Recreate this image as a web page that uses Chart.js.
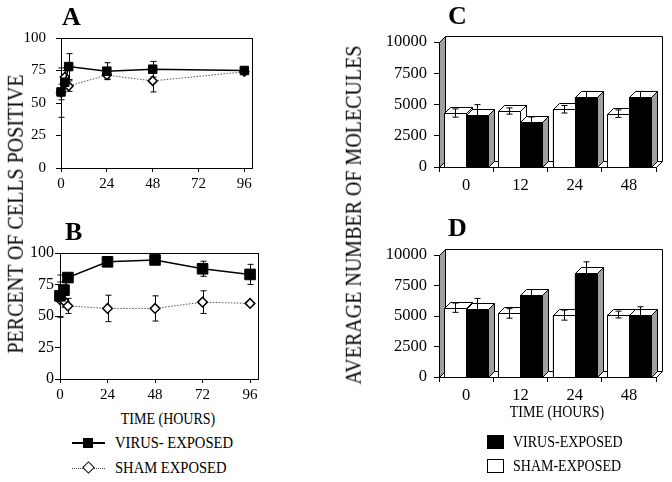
<!DOCTYPE html>
<html>
<head>
<meta charset="utf-8">
<script src="https://cdn.jsdelivr.net/npm/chart.js@4"></script>
<style>
body{margin:0;background:#fff;font-family:"Liberation Serif",serif;color:#000}
#fig{position:relative;width:672px;height:482px;overflow:hidden}
canvas{position:absolute}
.t{position:absolute;white-space:nowrap;line-height:1}
.let{font-weight:bold;font-size:26px;transform:translateY(-50%)}
</style>
</head>
<body>
<div id="fig">
  <canvas id="cA" width="270" height="200" style="left:0;top:0"></canvas>
  <canvas id="cB" width="280" height="200" style="left:0;top:200px"></canvas>
  <canvas id="cC" width="342" height="200" style="left:330px;top:0"></canvas>
  <canvas id="cD" width="342" height="210" style="left:330px;top:200px"></canvas>

  <div class="t let" style="left:62px;top:17px">A</div>
  <div class="t let" style="left:65px;top:232px">B</div>
  <div class="t let" style="left:448px;top:16px">C</div>
  <div class="t let" style="left:448px;top:228px">D</div>

  <div class="t" style="left:14px;top:214px;font-size:20px;transform:translate(-50%,-50%) rotate(-90deg) scaleY(1.2)">PERCENT OF CELLS POSITIVE</div>
  <div class="t" style="left:352px;top:215px;font-size:20px;transform:translate(-50%,-50%) rotate(-90deg) scaleY(1.2)">AVERAGE NUMBER OF MOLECULES</div>

  <div class="t" style="left:168px;top:419px;font-size:14px;transform:translate(-50%,-50%) scaleY(1.25)">TIME (HOURS)</div>
  <div class="t" style="left:557px;top:412px;font-size:14px;transform:translate(-50%,-50%) scaleY(1.25)">TIME (HOURS)</div>

  <!-- legend, line panels -->
  <div style="position:absolute;left:72px;top:442px;width:33px;height:1.5px;background:#000"></div>
  <div style="position:absolute;left:83px;top:438px;width:10px;height:10px;background:#000"></div>
  <div class="t" style="left:115px;top:443px;font-size:14.6px;transform:translateY(-50%) scaleY(1.1)">VIRUS- EXPOSED</div>
  <div style="position:absolute;left:72px;top:468px;width:33px;border-top:1px dotted #444"></div>
  <div style="position:absolute;left:84px;top:463px;width:7px;height:7px;background:#fff;border:1.5px solid #000;transform:rotate(45deg)"></div>
  <div class="t" style="left:115px;top:468px;font-size:14.6px;transform:translateY(-50%) scaleY(1.1)">SHAM EXPOSED</div>

  <!-- legend, bar panels -->
  <div style="position:absolute;left:487px;top:435px;width:17px;height:14px;background:#000"></div>
  <div class="t" style="left:513px;top:442px;font-size:14px;transform:translateY(-50%) scaleY(1.15)">VIRUS-EXPOSED</div>
  <div style="position:absolute;left:487px;top:459px;width:15px;height:12px;background:#fff;border:1px solid #000"></div>
  <div class="t" style="left:513px;top:466px;font-size:14px;transform:translateY(-50%) scaleY(1.15)">SHAM-EXPOSED</div>
</div>

<script>
'use strict';
// panel A
const hrsA = [0, 2, 4, 24, 48, 96];
const virusA = [58.5, 66, 78, 74.5, 76, 75];
const virusAErr = [6, 3, 10, 6.5, 6, 1];
const shamA = [58, 70, 63, 71.5, 67, 74];
const shamAErr = [19, 5, 4, 3, 8.5, 1];
// panel B
const hrsB = [0, 2, 4, 24, 48, 72, 96];
const virusB = [66, 70.5, 80.5, 93, 94.5, 87.5, 83];
const virusBErr = [16.5, 4, 3, 1.5, 1.5, 6, 8];
const shamB = [63, 62, 58, 56, 56, 61, 60];
const shamBErr = [14, 5, 6, 10.5, 10, 9, 1];
const hourTicks = [0, 24, 48, 72, 96];
const pctTicks = [0, 25, 50, 75, 100];
// panels C and D
const times = ['0', '12', '24', '48'];
const shamC = [4320, 4480, 4620, 4270];
const shamCErr = [330, 250, 300, 300];
const virusC = [4190, 3600, 5600, 5600];
const virusCErr = [800, 400, 450, 450];
const shamD = [5680, 5210, 5070, 5120];
const shamDErr = [380, 390, 410, 280];
const virusD = [5560, 6710, 8490, 5070];
const virusDErr = [880, 460, 950, 690];

Chart.defaults.font.family = '"Liberation Serif", serif';
Chart.defaults.color = '#000';

const frame = {
  id: 'frame',
  beforeDatasetsDraw(chart) {
    const {ctx, chartArea: a} = chart;
    ctx.save();
    ctx.strokeStyle = '#000'; ctx.lineWidth = 1;
    ctx.strokeRect(Math.round(a.left) + 0.5, Math.round(a.top) + 0.5, Math.round(a.right - a.left), Math.round(a.bottom - a.top));
    ctx.restore();
  }
};

function errBar(ctx, px, top, bot) {
  ctx.beginPath();
  ctx.moveTo(px, top); ctx.lineTo(px, bot);
  ctx.moveTo(px - 3, top); ctx.lineTo(px + 3, top);
  ctx.moveTo(px - 3, bot); ctx.lineTo(px + 3, bot);
  ctx.stroke();
}

const lineErrors = {
  id: 'lineErrors',
  beforeDatasetsDraw(chart) {
    const {ctx, scales: {x, y}} = chart;
    ctx.save(); ctx.strokeStyle = '#000'; ctx.lineWidth = 1;
    chart.data.datasets.forEach(ds => {
      ds.data.forEach((p, i) => {
        const e = ds.errs[i];
        errBar(ctx, Math.round(x.getPixelForValue(p.x)) + 0.5, y.getPixelForValue(p.y + e), y.getPixelForValue(p.y - e));
      });
    });
    ctx.restore();
  }
};

function lineChart(id, hrs, virus, vErr, sham, sErr, o) {
  const pts = arr => arr.map((v, i) => ({x: hrs[i], y: v}));
  return new Chart(document.getElementById(id), {
    type: 'line',
    data: {datasets: [
      {label: 'VIRUS- EXPOSED', data: pts(virus), errs: vErr, borderColor: '#000', borderWidth: 1.5, clip: false,
       pointStyle: 'rect', pointRadius: o.sq, pointBackgroundColor: '#000', pointBorderColor: '#000', pointBorderWidth: 1},
      {label: 'SHAM EXPOSED', data: pts(sham), errs: sErr, borderColor: '#555', borderWidth: 1, borderDash: [1.5, 1.5], clip: false,
       pointStyle: 'rectRot', pointRadius: o.di, pointBackgroundColor: '#fff', pointBorderColor: '#000', pointBorderWidth: 1.5}
    ]},
    options: {
      responsive: false, animation: false, devicePixelRatio: 1,
      layout: {padding: {top: o.top, right: o.right, left: 0, bottom: 0}},
      plugins: {legend: {display: false}, tooltip: {enabled: false}},
      scales: {
        x: {type: 'linear', min: 0, max: 100,
            afterBuildTicks: s => { s.ticks = hourTicks.map(v => ({value: v})); },
            ticks: {padding: 3, font: {size: 15}, callback: v => String(v)},
            grid: {drawOnChartArea: false, tickLength: 4, color: '#000'},
            border: {color: '#000'},
            afterFit: s => { s.height = o.xh; }},
        y: {min: 0, max: 100,
            afterBuildTicks: s => { s.ticks = pctTicks.map(v => ({value: v})); },
            ticks: {padding: o.ypad, font: {size: o.yfont}, callback: v => String(v)},
            grid: {drawOnChartArea: false, tickLength: 5, color: '#000'},
            border: {color: '#000'},
            afterFit: s => { s.width = o.yw; }}
      }
    },
    plugins: [frame, lineErrors]
  });
}

const D3 = 6;
const bars3d = {
  id: 'bars3d',
  beforeDatasetsDraw(chart) {
    const {ctx, chartArea: a} = chart;
    const L = Math.round(a.left) + 0.5, R = Math.round(a.right) + 0.5, T = Math.round(a.top) + 0.5, B = Math.round(a.bottom) + 0.5;
    ctx.save();
    ctx.strokeStyle = '#000'; ctx.lineWidth = 1;
    // floor
    ctx.beginPath();
    ctx.moveTo(L, B); ctx.lineTo(R, B); ctx.lineTo(R + D3, B - D3); ctx.lineTo(L + D3, B - D3); ctx.closePath();
    ctx.fillStyle = '#fff'; ctx.fill(); ctx.stroke();
    // side wall
    ctx.beginPath();
    ctx.moveTo(L, T); ctx.lineTo(L + D3, T - D3); ctx.lineTo(L + D3, B - D3); ctx.lineTo(L, B); ctx.closePath();
    ctx.fillStyle = '#a0a0a0'; ctx.fill(); ctx.stroke();
    // back wall edges
    ctx.beginPath();
    ctx.moveTo(L + D3, T - D3); ctx.lineTo(R + D3, T - D3); ctx.lineTo(R + D3, B - D3);
    ctx.stroke();
    ctx.restore();
  },
  afterDatasetsDraw(chart) {
    const {ctx} = chart;
    const y = chart.scales.y;
    const metas = chart.data.datasets.map((ds, k) => chart.getDatasetMeta(k));
    ctx.save();
    ctx.strokeStyle = '#000'; ctx.lineWidth = 1;
    for (let i = 0; i < chart.data.labels.length; i++) {
      metas.forEach((m, k) => {
        const ds = chart.data.datasets[k];
        const b = m.data[i].getProps(['x', 'y', 'width', 'base'], true);
        const l = Math.round(b.x - b.width / 2) + 0.5, r = Math.round(b.x + b.width / 2) + 0.5;
        const t = Math.round(b.y) + 0.5, bt = Math.round(b.base) + 0.5;
        ctx.fillStyle = ds.backgroundColor;
        ctx.fillRect(l, t, r - l, bt - t); ctx.strokeRect(l, t, r - l, bt - t);
        ctx.beginPath();
        ctx.moveTo(l, t); ctx.lineTo(l + D3, t - D3); ctx.lineTo(r + D3, t - D3); ctx.lineTo(r, t); ctx.closePath();
        ctx.fillStyle = '#fff'; ctx.fill(); ctx.stroke();
        ctx.beginPath();
        ctx.moveTo(r, t); ctx.lineTo(r + D3, t - D3); ctx.lineTo(r + D3, bt - D3); ctx.lineTo(r, bt); ctx.closePath();
        ctx.fillStyle = ds.sideColor; ctx.fill(); ctx.stroke();
        const v = ds.data[i], e = ds.errs[i];
        errBar(ctx, Math.round(b.x) + 0.5, y.getPixelForValue(v + e), y.getPixelForValue(v - e));
      });
    }
    ctx.restore();
  }
};

function barChart(id, sham, sErr, virus, vErr, top) {
  return new Chart(document.getElementById(id), {
    type: 'bar',
    data: {labels: times, datasets: [
      {label: 'SHAM-EXPOSED', data: sham, errs: sErr, backgroundColor: '#fff', sideColor: '#fff', borderColor: '#000', borderWidth: 1},
      {label: 'VIRUS-EXPOSED', data: virus, errs: vErr, backgroundColor: '#000', sideColor: '#a0a0a0', borderColor: '#000', borderWidth: 1}
    ]},
    options: {
      responsive: false, animation: false, devicePixelRatio: 1,
      categoryPercentage: 0.81, barPercentage: 1,
      layout: {padding: {top: top, right: 16, left: 0, bottom: 0}},
      plugins: {legend: {display: false}, tooltip: {enabled: false}},
      scales: {
        x: {offset: true,
            ticks: {padding: 4, font: {size: 16.5}},
            grid: {offset: true, drawOnChartArea: false, tickLength: 5, color: '#000'},
            border: {color: '#000'},
            afterFit: s => { s.height = 33; }},
        y: {min: 0, max: 10000,
            ticks: {stepSize: 2500, padding: 7, font: {size: 16.5}, callback: v => String(v)},
            grid: {drawOnChartArea: false, tickLength: 5, color: '#000'},
            border: {color: '#000'},
            afterFit: s => { s.width = 109; }}
      }
    },
    plugins: [bars3d]
  });
}

lineChart('cA', hrsA, virusA, virusAErr, shamA, shamAErr, {sq: 6, di: 4.5, top: 38, right: 18, xh: 32, yw: 61, ypad: 10, yfont: 15});
lineChart('cB', hrsB, virusB, virusBErr, shamB, shamBErr, {sq: 7.5, di: 4.8, top: 53, right: 22, xh: 21, yw: 60, ypad: 1, yfont: 16});
barChart('cC', shamC, shamCErr, virusC, virusCErr, 42);
barChart('cD', shamD, shamDErr, virusD, virusDErr, 55);
</script>
</body>
</html>
